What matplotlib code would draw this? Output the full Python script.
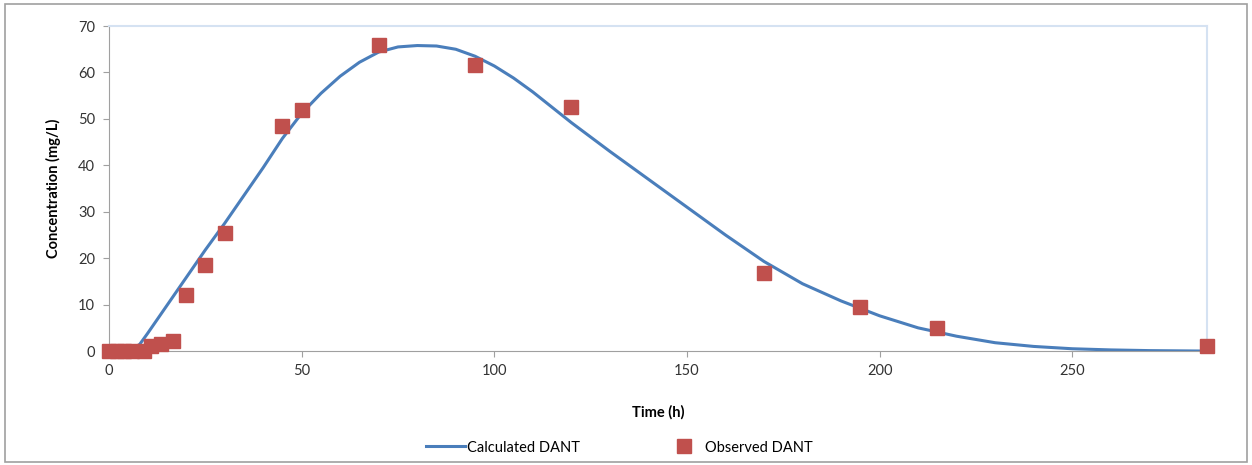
import matplotlib
matplotlib.use('Agg')
import matplotlib.pyplot as plt
from matplotlib.patches import Rectangle

# observed DANT concentrations
obs_time = [0, 2, 4, 6, 9, 11, 13.5, 16.5, 20, 25, 30, 45, 50, 70, 95, 120, 170, 195, 215, 285]
obs_conc = [0, 0, 0, 0, 0, 1, 1.5, 2.1, 12, 18.5, 25.5, 48.5, 52, 66, 61.7, 52.6, 16.8, 9.5, 5, 1]

# calculated DANT curve
calc_time = [6, 8, 10, 12, 15, 20, 25, 30, 35, 40, 45, 50, 55, 60, 65, 70, 75, 80, 85, 90, 95,
             100, 105, 110, 115, 120, 130, 140, 150, 160, 170, 180, 190, 200, 210, 220, 230, 240,
             250, 260, 270, 285]
calc_conc = [0, 1.5, 3.8, 6.2, 9.8, 15.8, 21.8, 27.5, 33.5, 39.5, 45.8, 51.2, 55.5, 59.2, 62.2, 64.4,
             65.5, 65.8, 65.7, 65, 63.5, 61.4, 58.8, 55.8, 52.5, 49.2, 43, 37, 31, 25, 19.3, 14.5,
             10.8, 7.6, 5, 3.2, 1.8, 1, 0.5, 0.25, 0.1, 0]

plt.rcParams['font.family'] = ['Lato', 'DejaVu Sans']

fig = plt.figure(figsize=(12.52, 4.65), dpi=100)
ax = fig.add_axes([0.0871, 0.245, 0.877, 0.699])

ax.plot(calc_time, calc_conc, color='#4A7EBB', lw=2.2, label='Calculated DANT', zorder=2)
ax.plot(obs_time, obs_conc, 's', color='#C0504D', markersize=9.5, label='Observed DANT',
        zorder=3, clip_on=False)

ax.set_xlim(0, 285)
ax.set_ylim(0, 70)
ax.set_xticks([0, 50, 100, 150, 200, 250])
ax.set_yticks(range(0, 71, 10))
ax.tick_params(direction='out', length=4, color='#A0A0A0', labelsize=10.5, labelcolor='#333333')
ax.tick_params(axis='x', pad=5)
ax.tick_params(axis='y', pad=6)

for s in ['left', 'bottom']:
    ax.spines[s].set_color('#A0A0A0')
for s in ['top', 'right']:
    ax.spines[s].set_color('#D5E2F2')
    ax.spines[s].set_linewidth(1.5)

ax.set_xlabel('Time (h)', fontsize=10.5, fontweight='bold', labelpad=20)
ax.set_ylabel('Concentration (mg/L)', fontsize=10.5, fontweight='bold', labelpad=12)

ax.legend(loc='upper center', bbox_to_anchor=(0.465, -0.235), ncol=2, frameon=False,
          fontsize=10.5, columnspacing=5.8, handlelength=2.7, handletextpad=0.1)

fig.patches.append(Rectangle((0.004, 0.006), 0.992, 0.985, transform=fig.transFigure,
                             fill=False, edgecolor='#A0A0A0', lw=1.2))

fig.savefig('out.png', dpi=100)
